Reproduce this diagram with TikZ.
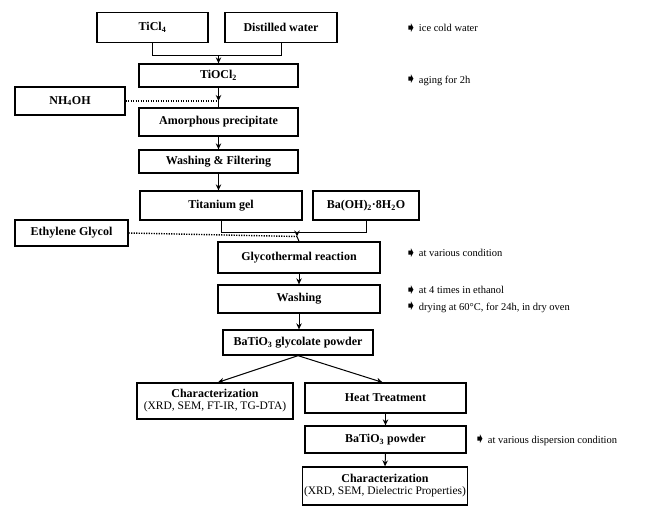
\documentclass[tikz,border=0pt]{standalone}
\usepackage{fontspec}
\setmainfont{Liberation Serif}
\newfontfamily\symfont{DejaVu Sans}
\usetikzlibrary{arrows.meta,positioning}

\newcommand{\notemark}{{\symfont\fontsize{14}{10}\selectfont\raisebox{-0.5pt}{➧}}\hspace{2pt}}

\begin{document}
\begin{tikzpicture}[
  x=1pt, y=-1pt,
  >={Stealth[length=6pt,width=5.5pt]},
  box/.style  = {draw, line width=1.3pt, align=center, inner sep=1pt,
                 font=\fontsize{12}{13}\selectfont\bfseries},
  note/.style = {anchor=west, inner sep=0pt, font=\fontsize{10.5}{12}\selectfont},
  ln/.style   = {line width=1pt},
  dots/.style = {line width=1.4pt, dash pattern=on 1.2pt off 1.3pt},
]
\useasboundingbox (0,0) rectangle (651,507);

%% ---- titanium sol --------------------------------------------------------
\node[box, minimum width=111pt, minimum height=30pt] (ticl)  at (152.5,27.5) {TiCl\textsubscript{4}};
\node[box, minimum width=112pt, minimum height=30pt] (water) at (281,27.5)   {Distilled water};
\node[box, minimum width=159pt, minimum height=23pt] (tiocl) at (218.5,75.5) {TiOCl\textsubscript{2}};
\node[box, minimum width=110pt, minimum height=28pt] (nh4oh) at (70,101)     {NH\textsubscript{4}OH};
\node[box, minimum width=159pt, minimum height=28pt] (amorph) at (218.5,122) {Amorphous precipitate};
\node[box, minimum width=159pt, minimum height=23pt] (filt)  at (218.5,161.5) {Washing \& Filtering};
\node[box, minimum width=162pt, minimum height=29pt] (tigel) at (221,205.5)  {Titanium gel};
\node[box, minimum width=106pt, minimum height=29pt] (baoh)  at (366,205.5)  {Ba(OH)\textsubscript{2}·8H\textsubscript{2}O};
\node[box, minimum width=113pt, minimum height=26pt] (eglyc) at (71.5,233)   {Ethylene Glycol};

\coordinate (j1) at (218.5,55);
\coordinate (d1) at (218.5,101);
\coordinate (j2) at (297,232);
\coordinate (d2) at (297,236.5);

\draw[ln] (ticl.south) |- (j1);
\draw[ln] (water.south) |- (j1);
\draw[ln,->] (j1) -- (tiocl.north);
\draw[dots] (nh4oh.east) -- (d1);
\draw[ln,->] (tiocl.south) -- (d1);
\draw[ln] (d1) -- (amorph.north);
\draw[ln,->] (amorph.south) -- (filt.north);
\draw[ln,->] (filt.south) -- (filt.south |- tigel.north);

%% ---- glycothermal route --------------------------------------------------
\node[box, minimum width=162pt, minimum height=31pt] (glyco) at (299,257.5) {Glycothermal reaction};
\node[box, minimum width=162pt, minimum height=28pt] (wash)  at (299,299)   {Washing};
\node[box, minimum width=150pt, minimum height=25pt] (btgp)  at (298,342.5) {BaTiO\textsubscript{3} glycolate powder};
\node[box, minimum width=156pt, minimum height=36pt] (char1) at (215,401)
  {Characterization\\[-1pt] {\fontsize{11.5}{12}\selectfont\mdseries (XRD, SEM, FT-IR, TG-DTA)}};
\node[box, minimum width=161pt, minimum height=30pt] (heat)  at (385.5,398) {Heat Treatment};
\node[box, minimum width=161pt, minimum height=27pt] (btp)   at (385.5,439.5) {BaTiO\textsubscript{3} powder};
\node[box, minimum width=165pt, minimum height=38pt] (char2) at (385,486)
  {Characterization\\[-1pt] {\fontsize{11.5}{12}\selectfont\mdseries (XRD, SEM, Dielectric Properties)}};

\draw[ln] (tigel.south) |- (j2);
\draw[ln] (baoh.south) |- (j2);
\draw[dots] (eglyc.east) -- (d2);
\draw[ln,->] (j2) -- (d2);
\draw[ln] (d2) -- (glyco.north);
\draw[ln,->] (glyco.south) -- (wash.north);
\draw[ln,->] (wash.south) -- (wash.south |- btgp.north);
\draw[ln,->] (btgp.south) -- ([xshift=3pt]char1.north);
\draw[ln,->] (btgp.south) -- ([xshift=-3pt]heat.north);
\draw[ln,->] (heat.south) -- (btp.north);
\draw[ln,->] (btp.south) -- (char2.north);

%% ---- process notes -------------------------------------------------------
\node[note] (n1) at (405,28)  {\notemark ice cold water};
\node[note] (n2) at (405,80)  {\notemark aging for 2h};
\node[note] (n3) at (405,253) {\notemark at various condition};
\node[note] (n4) at (405,290) {\notemark at 4 times in ethanol};
\node[note] (n5) at (405,307) {\notemark drying at 60°C, for 24h, in dry oven};
\node[note] (n6) at (474,440) {\notemark at various dispersion condition};

\end{tikzpicture}
\end{document}
